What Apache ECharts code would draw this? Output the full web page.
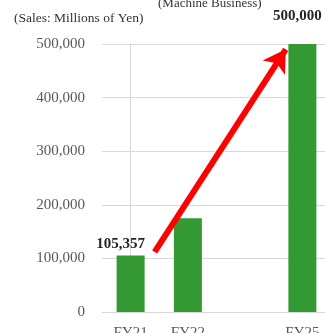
<!DOCTYPE html>
<html>
<head>
<meta charset="utf-8">
<script src="https://cdn.jsdelivr.net/npm/echarts@6/dist/echarts.min.js"></script>
<style>
  html, body { margin: 0; padding: 0; background: #fff; }
  #chart { width: 325px; height: 333px; }
</style>
</head>
<body>
<div id="chart"></div>
<script>
// Machine business sales (millions of yen)
const categories = ['FY21', 'FY22', '', 'FY25'];
const sales = [105357, 175000, null, 500000];
const yTicks = [0, 100000, 200000, 300000, 400000, 500000];
// Growth arrow endpoints on a helper value axis (category index, sales)
const arrowFrom = [0.42, 112000];
const arrowTo = [2.71, 490000];

const fmt = v => v.toLocaleString('en-US');
const serif = '"Liberation Serif", "Times New Roman", serif';

const chart = echarts.init(document.getElementById('chart'), null, { renderer: 'canvas' });
chart.setOption({
  animation: false,
  textStyle: { fontFamily: serif },
  title: [
    { text: '(Machine Business)', left: 158, top: -3, padding: 0,
      textStyle: { fontFamily: serif, fontSize: 13, fontWeight: 'normal', color: '#333' } },
    { text: '(Sales: Millions of Yen)', left: 14, top: 11, padding: 0,
      textStyle: { fontFamily: serif, fontSize: 13.5, fontWeight: 'normal', color: '#333' } }
  ],
  grid: { left: 102, right: -6, top: 44, bottom: 21, containLabel: false, outerBoundsMode: 'none' },
  xAxis: [
    { type: 'category', data: categories,
      axisLine: { show: true, lineStyle: { color: '#d9d9d9', width: 1 } },
      axisTick: { show: false },
      axisLabel: { color: '#595959', fontSize: 15, fontFamily: serif, margin: 14 } },
    { type: 'value', min: -0.5, max: 3.5, show: false }
  ],
  yAxis: {
    type: 'value', min: yTicks[0], max: yTicks[yTicks.length - 1], interval: 100000,
    axisLine: { show: true, lineStyle: { color: '#d9d9d9', width: 1 } },
    axisTick: { show: false },
    splitLine: { lineStyle: { color: '#d9d9d9', width: 1 } },
    axisLabel: { color: '#595959', fontSize: 15, fontFamily: serif, margin: 17, formatter: fmt }
  },
  series: [
    {
      type: 'bar', data: sales, barWidth: 28, xAxisIndex: 0,
      itemStyle: { color: '#339933' },
      label: {
        show: true, position: 'top', fontFamily: serif, fontSize: 15, fontWeight: 'bold', color: '#262626',
        formatter: p => (p.dataIndex === 0 || p.dataIndex === 3) ? fmt(p.value) : ''
      },
      labelLayout: p => p.dataIndex === 0 ? { dx: -10, dy: 1 } : (p.dataIndex === 3 ? { dx: -5, dy: -15 } : {})
    },
    {
      type: 'scatter', xAxisIndex: 1, symbolSize: 0, data: [arrowFrom, arrowTo], silent: true,
      markLine: {
        silent: true, symbol: ['none', 'arrow'], symbolSize: [20, 22],
        label: { show: false },
        lineStyle: { color: '#ff0000', width: 6, type: 'solid' },
        emphasis: { disabled: true },
        data: [[{ coord: arrowFrom }, { coord: arrowTo }]]
      }
    }
  ]
});
</script>
</body>
</html>
